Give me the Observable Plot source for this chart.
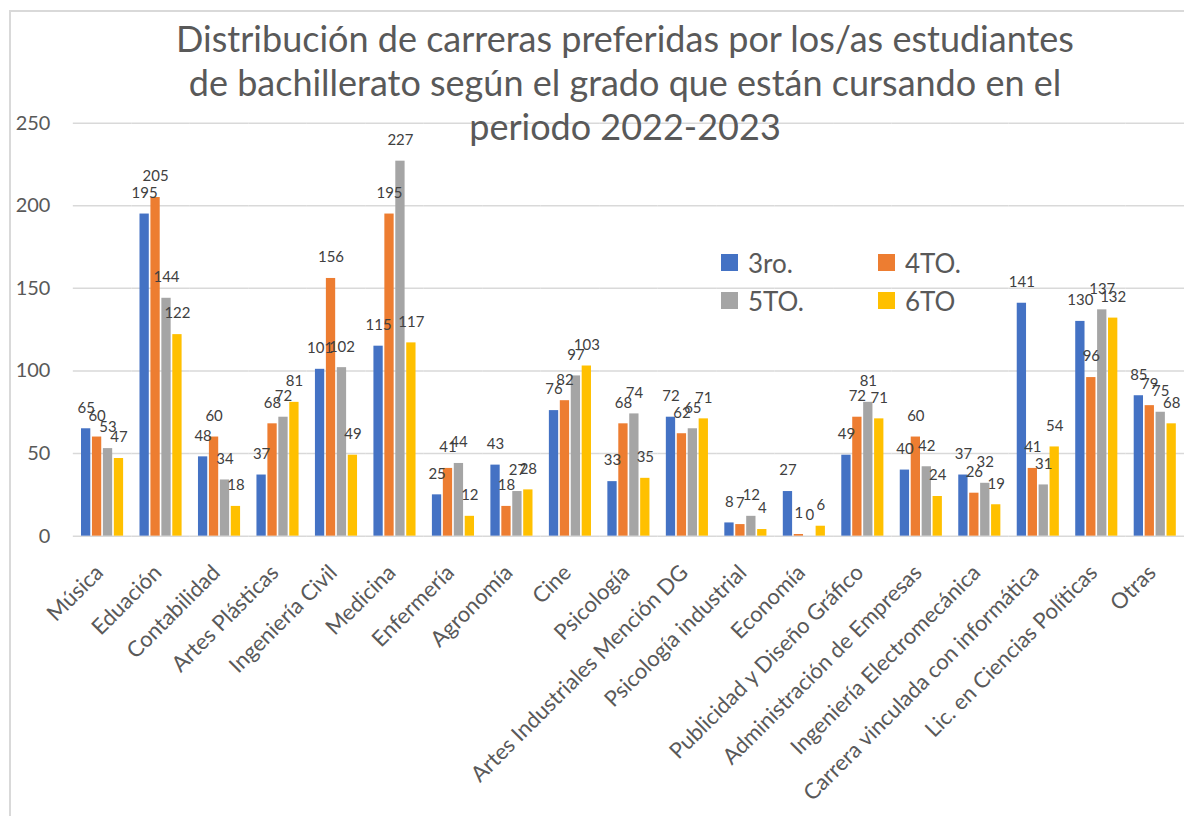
<!DOCTYPE html>
<html>
<head>
<meta charset="utf-8">
<script src="https://cdn.jsdelivr.net/npm/d3@7"></script>
<script src="https://cdn.jsdelivr.net/npm/@observablehq/plot@0.6"></script>
<style>
  html, body { margin: 0; padding: 0; background: #fff; overflow: hidden; width: 1184px; height: 816px; }
  #wrap { position: relative; width: 1184px; height: 816px; overflow: hidden; }
  #chart { position: absolute; left: 0; top: 0; }
  #border { position: absolute; left: 9px; top: 10px; width: 1300px; height: 900px;
            border-left: 2px solid #d9d9d9; border-top: 2px solid #d9d9d9; pointer-events: none; }
  #title { position: absolute; left: 125px; width: 1000px; top: 16px; text-align: center;
           font-family: Lato, "Open Sans", sans-serif; font-size: 36px; line-height: 44px; color: #595959; }
  .leg { position: absolute; font-family: Lato, sans-serif; font-size: 26px; color: #595959; line-height: 26px; }
  .leg i { position: absolute; width: 17px; height: 17px; left: 0; top: 4px; }
  .leg span { position: absolute; left: 27px; top: 0; white-space: nowrap; }
</style>
</head>
<body>
<div id="wrap">
  <div id="chart"></div>
  <div id="border"></div>
  <div id="title"></div>
  <div id="legend"></div>
</div>
<script>
const titleLines = [
  "Distribución de carreras preferidas por los/as estudiantes",
  "de bachillerato según el grado que están cursando en el",
  "periodo 2022-2023"
];
const categories = [
  "Música", "Eduación", "Contabilidad", "Artes Plásticas", "Ingeniería Civil",
  "Medicina", "Enfermería", "Agronomía", "Cine", "Psicología",
  "Artes Industriales Mención DG", "Psicología industrial", "Economía",
  "Publicidad y Diseño Gráfico", "Administración de Empresas",
  "Ingeniería Electromecánica", "Carrera vinculada con informática",
  "Lic. en Ciencias Políticas", "Otras"
];
const seriesNames = ["3ro.", "4TO.", "5TO.", "6TO"];
const s3ro = [65, 195, 48, 37, 101, 115, 25, 43, 76, 33, 72, 8, 27, 49, 40, 37, 141, 130, 85];
const s4to = [60, 205, 60, 68, 156, 195, 41, 18, 82, 68, 62, 7, 1, 72, 60, 26, 41, 96, 79];
const s5to = [53, 144, 34, 72, 102, 227, 44, 27, 97, 74, 65, 12, 0, 81, 42, 32, 31, 137, 75];
const s6to = [47, 122, 18, 81, 49, 117, 12, 28, 103, 35, 71, 4, 6, 71, 24, 19, 54, 132, 68];
const yTicks = [0, 50, 100, 150, 200, 250];
const colors = ["#4472C4", "#ED7D31", "#A5A5A5", "#FFC000"];

const seriesValues = [s3ro, s4to, s5to, s6to];
const data = categories.flatMap((c, i) =>
  seriesNames.map((s, j) => ({cat: c, serie: s, value: seriesValues[j][i]}))
);

// layout
const W = 1187, H = 816, mL = 73, mR = 0, mT = 123, mB = 279;
const pInner = 0.28, pOuter = 0.14;
const step = (W - mL - mR) / categories.length;
const half = step * pOuter;

const chart = Plot.plot({
  width: W, height: H,
  marginLeft: mL, marginRight: mR, marginTop: mT, marginBottom: mB,
  style: {fontFamily: "Lato, sans-serif", color: "#595959", background: "transparent", overflow: "visible"},
  fx: {domain: categories, paddingInner: pInner, paddingOuter: pOuter, round: false, label: null},
  x: {domain: seriesNames, paddingInner: 0.15, paddingOuter: 0, round: false, axis: null},
  y: {domain: [0, 250], label: null},
  color: {domain: seriesNames, range: colors},
  marks: [
    Plot.ruleY(yTicks, {stroke: "#d9d9d9", strokeWidth: 1.5, insetLeft: -half, insetRight: -half}),
    Plot.barY(data, {fx: "cat", x: "serie", y: "value", fill: "serie"}),
    Plot.text(data, {fx: "cat", x: "serie", y: "value", text: d => String(d.value),
      dy: -21, fontSize: 15, fill: "#404040"}),
    Plot.axisY({ticks: yTicks, tickSize: 0, tickPadding: 23 + half, fontSize: 20, label: null, fill: "#595959"}),
    Plot.axisFx({anchor: "bottom", tickRotate: -45, tickSize: 0, tickPadding: 33, dx: -3, fontSize: 22, label: null, fill: "#595959"})
  ]
});
document.getElementById("chart").appendChild(chart);

document.getElementById("title").innerHTML = titleLines.join("<br>");

const legPos = [[721, 250], [878, 250], [721, 288], [878, 288]];
const leg = document.getElementById("legend");
seriesNames.forEach((s, j) => {
  const d = document.createElement("div");
  d.className = "leg";
  d.style.left = legPos[j][0] + "px";
  d.style.top = legPos[j][1] + "px";
  d.innerHTML = `<i style="background:${colors[j]}"></i><span>${s}</span>`;
  leg.appendChild(d);
});
</script>
</body>
</html>
